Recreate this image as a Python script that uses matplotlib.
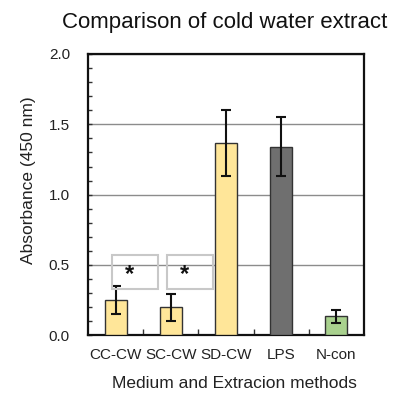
import matplotlib
matplotlib.use("Agg")
import matplotlib.pyplot as plt
from matplotlib.patches import Rectangle
from matplotlib.ticker import MultipleLocator

plt.rcParams['font.family'] = ['Liberation Sans', 'DejaVu Sans']

categories = ["CC-CW", "SC-CW", "SD-CW", "LPS", "N-con"]
values = [0.25, 0.20, 1.37, 1.34, 0.135]
errors = [0.10, 0.095, 0.235, 0.21, 0.045]
colors = ["#FFE699", "#FFE699", "#FFE699", "#6F6F6F", "#A9D18E"]
star_groups = [0, 1]
y_ticks = [0.0, 0.5, 1.0, 1.5, 2.0]

fig = plt.figure(figsize=(3.94, 3.94), dpi=100)
ax = fig.add_axes([0.2234, 0.149, 0.7005, 0.714])

x = list(range(len(categories)))
ax.bar(x, values, width=0.4, color=colors, edgecolor="#333333", linewidth=1.0, zorder=3)
ax.errorbar(x, values, yerr=errors, fmt="none", ecolor="#111111", elinewidth=1.5,
            capsize=3.5, capthick=1.5, zorder=4)

for g in star_groups:
    ax.add_patch(Rectangle((g - 0.07, 0.33), 0.84, 0.24, fill=False,
                           edgecolor="#C8C8C8", linewidth=1.5, zorder=5))
    ax.text(g + 0.25, 0.43, "*", ha="center", va="center", fontsize=17,
            fontweight="bold", color="#111111", zorder=6)

ax.set_xlim(-0.5, 4.5)
ax.set_ylim(0, 2.0)
ax.set_yticks(y_ticks)
ax.set_yticklabels([f"{v:.1f}" for v in y_ticks])
ax.yaxis.set_minor_locator(MultipleLocator(0.1))
ax.yaxis.grid(True, which="major", color="#8C8C8C", linewidth=1.0, zorder=0)
ax.set_axisbelow(True)

ax.set_xticks(x)
ax.set_xticklabels(categories)
ax.set_xticks([i + 0.5 for i in x[:-1]], minor=True)
ax.tick_params(axis="x", which="major", length=0, pad=9.5, labelsize=11, colors="#222222")
ax.tick_params(axis="x", which="minor", direction="in", length=4, width=1, color="#333333")
ax.tick_params(axis="y", which="both", direction="in", length=3, width=1,
               color="#333333", labelsize=11, pad=13, labelcolor="#222222")

for s in ax.spines.values():
    s.set_linewidth(1.6)
    s.set_color("#111111")

ax.set_ylabel("Absorbance (450 nm)", fontsize=12.5, color="#222222")
ax.yaxis.set_label_coords(-0.19, 0.553)
ax.set_xlabel("Medium and Extracion methods", fontsize=12.5, color="#222222")
ax.xaxis.set_label_coords(0.53, -0.145)

fig.text(0.571, 0.944, "Comparison of cold water extract", ha="center", va="center",
         fontsize=16, color="#111111")

fig.savefig("out.png", dpi=100)
